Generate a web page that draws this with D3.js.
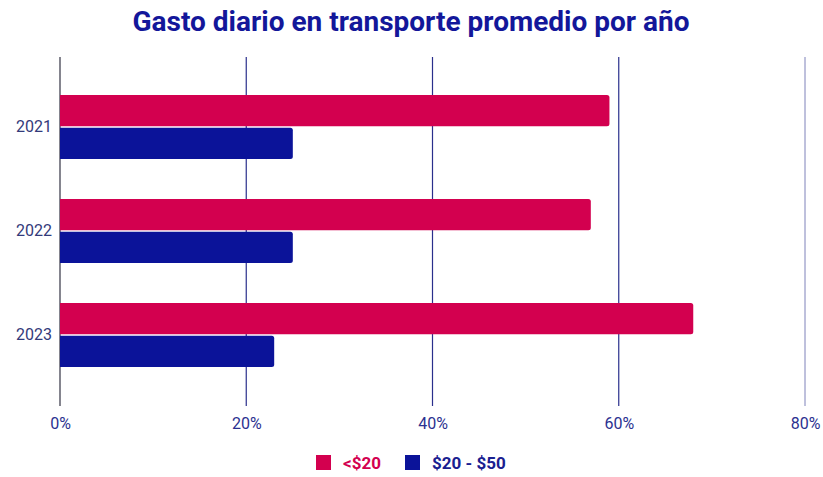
<!DOCTYPE html>
<html>
<head>
<meta charset="utf-8">
<script src="https://cdn.jsdelivr.net/npm/d3@7"></script>
<style>
  html, body { margin: 0; padding: 0; background: #ffffff; }
  svg { display: block; font-family: Roboto, "Noto Sans", sans-serif; }
</style>
</head>
<body>
<svg id="chart" width="823" height="477"></svg>
<script>
// Daily transport spending by year, share of respondents per spending range
const years = ["2021", "2022", "2023"];
const seriesNames = ["<$20", "$20 - $50"];
const under20 = [59, 57, 68];
const from20to50 = [25, 25, 23];
const tickValues = [0, 20, 40, 60, 80];
const colors = ["#D3004F", "#0B1399"];

const rows = years.map((y, i) => ({ year: y, values: [under20[i], from20to50[i]] }));

const svg = d3.select("#chart");

const x = d3.scaleLinear().domain([0, 80]).range([60, 805]);
const y = d3.scaleBand().domain(years).range([75, 387]).padding(0);
const inner = d3.scaleBand().domain(seriesNames)
  .range([y.bandwidth() / 2 - 32, y.bandwidth() / 2 + 32]).paddingInner(0.05);

const gridTop = 57, gridBottom = 406;

// Title
svg.append("text")
  .attr("x", 411).attr("y", 31)
  .attr("text-anchor", "middle")
  .attr("font-size", 28).attr("font-weight", 700)
  .attr("fill", "#13179a")
  .text("Gasto diario en transporte promedio por año");

// Vertical gridlines
svg.append("g").selectAll("line").data(tickValues).join("line")
  .attr("x1", d => x(d)).attr("x2", d => x(d))
  .attr("y1", gridTop).attr("y2", gridBottom)
  .attr("stroke", d => d === 0 ? "#333344" : "#2a2f8c")
  .attr("stroke-width", d => d === 80 ? 1 : 1.2)
  .attr("stroke-opacity", d => d === 80 ? 0.6 : 1);

// Bottom tick labels
const xAxis = d3.axisBottom(x).tickValues(tickValues).tickFormat(d => d + "%").tickSize(0).tickPadding(0);
const gx = svg.append("g").attr("transform", `translate(0, ${gridBottom + 12})`).call(xAxis);
gx.select(".domain").remove();
gx.selectAll("text")
  .attr("font-size", 16).attr("fill", "#2b3190")
  .attr("font-family", "Roboto, sans-serif");

// Year labels
const yAxis = d3.axisLeft(y).tickSize(0).tickPadding(8);
const gy = svg.append("g").attr("transform", `translate(${x(0)}, 0)`).call(yAxis);
gy.select(".domain").remove();
gy.selectAll("text")
  .attr("font-size", 16).attr("fill", "#333a7a")
  .attr("font-family", "Roboto, sans-serif");

// Bars
const groups = svg.append("g").selectAll("g").data(rows).join("g")
  .attr("transform", d => `translate(0, ${y(d.year)})`);

groups.selectAll("path").data(d => d.values.map((v, j) => ({ v, name: seriesNames[j], j })))
  .join("path")
  .attr("fill", d => colors[d.j])
  .attr("d", d => {
    const x0 = x(0), x1 = x(d.v);
    const y0 = inner(d.name), h = inner.bandwidth();
    const r = 2.5;
    return `M${x0},${y0} H${x1 - r} Q${x1},${y0} ${x1},${y0 + r} V${y0 + h - r} Q${x1},${y0 + h} ${x1 - r},${y0 + h} H${x0} Z`;
  });

// Legend
const legend = svg.append("g").attr("transform", "translate(316, 455)");
const legendItems = [
  { name: seriesNames[0], color: colors[0], text: "#D3004F", dx: 0 },
  { name: seriesNames[1], color: colors[1], text: "#1a2090", dx: 89 }
];
const li = legend.selectAll("g").data(legendItems).join("g")
  .attr("transform", d => `translate(${d.dx}, 0)`);
li.append("rect").attr("width", 15).attr("height", 15).attr("fill", d => d.color);
li.append("text").attr("x", 27).attr("y", 13.5)
  .attr("font-size", 17).attr("font-weight", 700)
  .attr("fill", d => d.text)
  .text(d => d.name);
</script>
</body>
</html>
